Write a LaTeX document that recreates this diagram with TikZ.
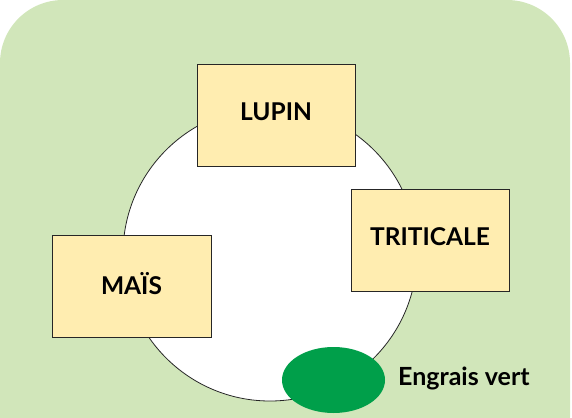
\documentclass[tikz,border=0pt]{standalone}
\usepackage{fontspec}
\setmainfont{Lato}
\usetikzlibrary{shapes.geometric}
\definecolor{bggreen}{RGB}{209,230,186}
\definecolor{boxyellow}{RGB}{255,237,176}
\definecolor{leafgreen}{RGB}{0,159,74}
\tikzset{
  cropbox/.style={draw=black!85, line width=0.8pt, fill=boxyellow, minimum width=158pt, minimum height=102pt, inner sep=0pt, font=\fontsize{24.5}{28}\selectfont\bfseries, text depth=6pt},
  lbl/.style={font=\fontsize{25}{28}\selectfont\bfseries, inner sep=0pt}
}
\begin{document}
\begin{tikzpicture}[x=1pt,y=-1pt]
\useasboundingbox (0,0) rectangle (572,417);
\fill[bggreen, rounded corners=63pt] (0,0) rectangle (570,480);
\node[circle, draw=black!85, line width=0.8pt, fill=white, minimum size=294pt, inner sep=0pt] (cycle) at (270,254) {};
\node[cropbox] (lupin) at (276,115) {LUPIN};
\node[cropbox] (triticale) at (430,240) {TRITICALE};
\node[cropbox, minimum width=159pt] (mais) at (131.5,286) {MAÏS};
\node[ellipse, fill=leafgreen, minimum width=103pt, minimum height=66pt, inner sep=0pt] (engrais) at (333.5,380) {};
\node[lbl, anchor=base west] (engraislbl) at (398,385) {Engrais vert};
\end{tikzpicture}
\end{document}
